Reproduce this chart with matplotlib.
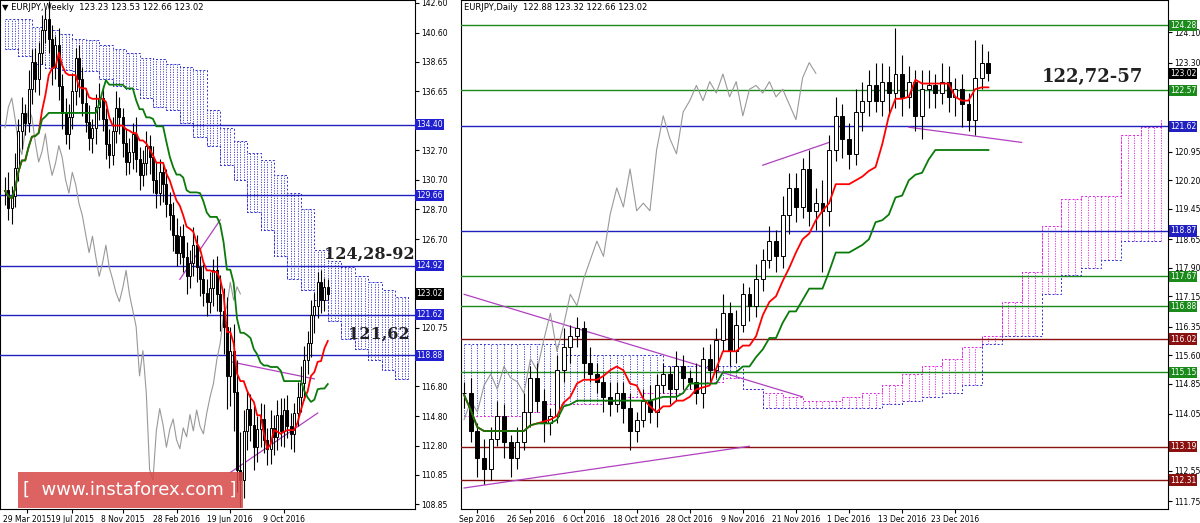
import numpy as np
import pandas as pd
import matplotlib
matplotlib.use("Agg")
import matplotlib.pyplot as plt
from matplotlib.transforms import blended_transform_factory as btf

# ---------------- DATA: weekly ----------------
w_close = [130.0,128.8,129.6,131.5,134.0,135.2,134.5,136.8,138.6,137.5,
           139.2,140.8,141.5,140.2,138.3,139.8,137.0,135.2,133.8,134.9,
           136.7,138.9,137.5,135.9,134.6,133.5,134.2,135.6,136.2,134.8,
           133.1,132.4,134.0,135.5,134.9,133.2,131.9,132.6,133.8,132.1,
           131.0,131.8,133.0,132.2,130.7,129.8,131.2,130.4,129.1,128.3,
           127.0,125.8,126.9,125.5,124.2,125.1,126.3,124.8,124.0,123.1,
           122.5,123.4,124.6,123.0,121.9,120.8,117.5,119.2,116.4,111.2,
           110.5,113.8,115.3,114.2,112.7,113.9,114.6,113.2,112.6,114.0,
           113.4,114.9,113.8,115.2,114.1,113.6,115.0,116.1,117.0,118.6,
           119.7,121.6,122.2,123.8,122.6,123.5,123.02]
w_wick_up = [0.9,1.2,0.7,1.0,0.8,1.1,0.6,1.3,0.9,1.0,
             0.8,1.0,0.7,1.2,0.9,0.6,1.1,0.8,1.0,0.9,
             1.2,0.7,0.9,0.8,1.0,1.1,0.6,0.9,1.0,0.8,
             0.7,1.0,0.9,1.2,0.8,0.6,1.0,0.9,0.7,1.1,
             0.8,0.9,1.0,0.7,0.8,1.2,0.9,0.6,1.0,0.8,
             0.9,1.1,0.7,0.8,1.0,0.9,1.2,0.7,0.8,1.0,
             0.9,1.1,0.8,1.0,1.3,1.5,2.0,1.6,1.8,2.2,
             2.5,1.4,1.2,1.0,1.3,0.9,1.1,1.0,0.8,1.2,
             0.9,1.0,1.1,0.8,1.0,0.9,0.7,1.0,1.2,0.9,
             0.8,1.0,0.9,0.7,0.8,0.6,0.5]
w_wick_dn = [1.0,0.8,1.1,0.7,0.9,1.2,0.8,0.6,1.0,0.9,
             1.1,0.7,0.9,1.0,1.2,0.8,0.9,1.1,0.7,1.0,
             0.8,1.0,1.2,0.9,0.7,0.8,1.0,1.1,0.9,0.8,
             1.0,0.9,0.7,0.8,1.1,1.0,0.9,0.8,1.2,0.9,
             1.0,0.7,0.8,1.1,0.9,1.0,0.8,1.2,0.9,1.0,
             1.1,0.9,0.8,1.0,1.2,0.8,0.9,1.0,1.1,0.9,
             1.0,0.8,1.2,1.1,1.4,1.8,2.2,2.0,2.6,1.5,
             1.8,1.2,1.3,1.1,1.5,1.0,1.2,0.9,1.1,1.0,
             1.2,0.9,1.0,1.1,0.8,1.0,1.2,0.9,1.0,1.1,
             1.0,0.9,1.2,0.8,0.9,0.7,0.4]
w_cloud_idx = list(range(0, 124, 4))
w_cloud_up = [141.5,141.5,141.0,140.8,140.5,140.2,140.1,139.8,139.5,139.2,
              138.9,138.8,138.5,138.3,138.1,135.4,134.2,133.3,132.5,132.0,
              131.0,129.8,128.7,126.0,125.2,124.8,124.2,123.8,123.3,122.8,122.6]
w_cloud_lo = [139.5,139.0,138.5,138.2,138.1,138.0,138.0,137.5,137.0,136.8,
              136.2,135.6,135.4,134.5,133.6,133.0,131.7,130.7,128.5,127.3,
              125.6,124.0,123.3,122.6,121.2,120.0,119.3,118.6,117.9,117.3,117.3]
w_dates_idx = [6.5, 20, 35, 51, 67, 83]
w_dates = ["29 Mar 2015", "19 Jul 2015", "8 Nov 2015", "28 Feb 2016", "19 Jun 2016", "9 Oct 2016"]
w_ticks = [142.60,140.60,138.65,136.65,132.70,130.70,128.70,126.70,120.75,116.80,114.80,112.80,110.85,108.85]
w_levels = [134.40, 129.66, 124.92, 121.62, 118.88]
w_trend = [((66, 118.5), (92, 117.3)), ((67, 111.0), (93, 115.0)), ((52, 124.0), (64, 128.0))]

# ---------------- DATA: daily ----------------
d_close = [114.6,113.6,112.9,112.6,113.4,114.0,113.3,112.9,113.3,114.1,115.0,114.4,113.8,114.0,
           115.2,115.8,116.1,116.3,115.4,115.1,114.9,114.5,114.3,114.6,
           114.2,113.6,113.9,114.4,114.1,114.8,115.1,114.7,115.3,115.0,
           114.9,114.6,115.5,115.2,116.0,116.7,115.7,116.4,117.2,116.9,
           117.6,118.1,118.6,118.2,119.3,120.0,119.5,120.5,119.4,119.6,
           119.4,121.0,121.9,121.3,120.9,122.0,122.3,122.7,122.3,122.8,
           122.5,123.0,122.4,122.8,121.9,122.6,122.7,122.5,122.8,122.4,
           122.6,122.2,121.8,122.9,123.3,123.02]
d_wick_up = [0.3,0.4,0.2,0.5,0.3,0.4,0.3,0.2,0.4,0.5,
             0.3,0.4,0.3,0.2,0.4,0.5,0.3,0.3,0.2,0.4,
             0.3,0.2,0.4,0.3,0.3,0.4,0.2,0.3,0.4,0.3,
             0.3,0.2,0.4,0.3,0.2,0.5,0.3,0.4,0.3,0.5,
             0.3,0.4,0.3,0.2,0.4,0.3,0.4,0.3,0.5,0.4,
             0.4,0.3,0.5,0.4,0.6,0.4,0.5,0.3,0.4,0.6,
             0.5,0.4,0.6,0.5,0.4,1.2,0.5,0.4,0.3,0.5,
             0.4,0.3,0.5,0.4,0.3,0.4,0.3,1.0,0.5,0.3]
d_wick_dn = [0.4,0.3,0.5,0.4,0.3,0.2,0.4,0.5,0.3,0.2,
             0.4,0.3,0.5,0.3,0.2,0.3,0.4,0.3,0.4,0.2,
             0.3,0.4,0.3,0.2,0.4,0.5,0.3,0.2,0.3,0.4,
             0.2,0.4,0.3,0.3,0.2,0.3,0.4,0.3,0.2,0.3,
             0.4,0.3,0.2,0.4,0.3,0.3,0.2,0.4,0.3,0.5,
             0.4,0.3,0.4,0.5,1.6,0.4,0.3,0.5,0.4,0.3,
             0.5,0.4,0.3,0.4,0.6,0.4,0.5,0.3,0.4,0.6,
             0.5,0.4,0.3,0.4,0.5,0.6,0.3,0.4,0.3,0.2]
d_cloud_idx = list(range(0, 106, 3))
d_spanA = [114.0,114.0,114.0,114.1,114.3,114.3,114.3,114.4,114.5,114.6,114.6,114.7,114.9,115.0,
           114.7,114.6,114.5,114.4,114.4,114.5,114.6,114.8,115.1,115.3,115.5,115.8,116.1,117.0,
           117.8,119.0,119.7,119.8,119.8,121.4,121.6,121.8]
d_spanB = [115.9,115.9,115.9,115.9,115.9,115.6,115.6,115.6,115.6,115.6,115.3,115.3,115.3,115.3,
           114.7,114.2,114.2,114.2,114.2,114.2,114.2,114.3,114.4,114.5,114.6,114.8,115.9,116.1,
           116.1,117.2,117.7,117.9,118.1,118.6,118.6,118.6]
d_dates_idx = [2, 10, 18, 26, 34, 42, 50, 58, 66, 74]
d_dates = ["Sep 2016", "26 Sep 2016", "6 Oct 2016", "18 Oct 2016", "28 Oct 2016", "9 Nov 2016",
           "21 Nov 2016", "1 Dec 2016", "13 Dec 2016", "23 Dec 2016"]
d_ticks = [124.10,123.30,120.95,120.20,119.45,118.65,117.90,117.15,116.35,115.60,114.85,114.05,112.55,111.75]
d_levels = [(124.28, "#1a8a1a"), (122.57, "#1a8a1a"), (121.62, "#2020c0"), (118.87, "#2020c0"),
            (117.67, "#1a8a1a"), (116.88, "#1a8a1a"), (116.02, "#8b1010"), (115.15, "#1a8a1a"),
            (113.19, "#8b1010"), (112.31, "#8b1010")]
d_trend = [((0, 117.2), (51, 114.5)), ((0, 112.1), (43, 113.2)), ((45, 120.6), (55, 121.2)),
           ((67, 121.6), (84, 121.2))]


def candles(ax, closes, up, dn, width):
    c = np.array(closes)
    o = np.concatenate([[c[0]], c[:-1]])
    hi = np.maximum(o, c) + np.array(up)
    lo = np.minimum(o, c) - np.array(dn)
    x = np.arange(len(c))
    ax.vlines(x, lo, hi, color="black", lw=0.8, zorder=4)
    bull = c >= o
    ax.bar(x[bull], (c - o)[bull], bottom=o[bull], width=width, color="white", edgecolor="black", lw=0.7, zorder=5)
    ax.bar(x[~bull], (o - c)[~bull], bottom=c[~bull], width=width, color="black", edgecolor="black", lw=0.7, zorder=5)
    hs, ls = pd.Series(hi), pd.Series(lo)
    tenkan = (hs.rolling(9, min_periods=1).max() + ls.rolling(9, min_periods=1).min()) / 2
    kijun = (hs.rolling(26, min_periods=1).max() + ls.rolling(26, min_periods=1).min()) / 2
    ax.plot(x, tenkan, color="red", lw=1.3, zorder=6)
    ax.plot(x, kijun, color="#0a7a0a", lw=1.3, zorder=6)
    ax.plot(x[26:] - 26, c[26:], color="#999999", lw=0.8, zorder=3)


def cloud(ax, idx, a, b, bear_color, bull_color, step):
    idx = np.array(idx); a = np.array(a); b = np.array(b)
    xs = np.arange(idx[0], idx[-1] + 0.01, step)
    k = np.searchsorted(idx, xs, side="right") - 1
    ya, yb = a[k], b[k]
    cols = np.where(yb >= ya, bear_color, bull_color)
    ax.vlines(xs, np.minimum(ya, yb), np.maximum(ya, yb), colors=cols, lw=0.6,
              linestyles=(0, (1.5, 1.5)), zorder=2)
    ax.step(idx, a, where="post", color=bull_color, lw=0.7, ls=(0, (2, 2)), zorder=2)
    ax.step(idx, b, where="post", color=bear_color, lw=0.7, ls=(0, (2, 2)), zorder=2)


def label_box(ax, y, txt, col):
    ax.text(1.003, y, txt, transform=btf(ax.transAxes, ax.transData), fontsize=5.5, color="white",
            va="center", ha="left", bbox=dict(boxstyle="square,pad=0.15", fc=col, ec="none"), zorder=10,
            clip_on=False)


fig = plt.figure(figsize=(12, 5.23), dpi=100)

# ---------- left weekly ----------
ax1 = fig.add_axes([0.0, 0.027, 0.346, 0.973])
ax1.set_xlim(-1.5, 122)
ax1.set_ylim(108.55, 142.80)
cloud(ax1, w_cloud_idx, w_cloud_lo, w_cloud_up, "#3030d0", "#3030d0", 1.0)
for lv in w_levels:
    ax1.axhline(lv, color="#2020c0", lw=1.0, zorder=3)
    label_box(ax1, lv, f"{lv:.2f}", "#2020d0")
for (x0, y0), (x1, y1) in w_trend:
    ax1.plot([x0, x1], [y0, y1], color="#b040c0", lw=0.9, zorder=3)
candles(ax1, w_close, w_wick_up, w_wick_dn, 0.6)
label_box(ax1, 123.02, "123.02", "black")
ax1.text(95, 125.4, "124,28-92", fontsize=11.5, fontweight="bold", family="DejaVu Serif", color="#222222", zorder=9)
ax1.text(102, 120.0, "121,62", fontsize=11.5, fontweight="bold", family="DejaVu Serif", color="#222222", zorder=9)
ax1.text(0.005, 0.995, "\u25bc EURJPY,Weekly  123.23 123.53 122.66 123.02", transform=ax1.transAxes,
         fontsize=6, va="top", ha="left")

# ---------- right daily ----------
ax2 = fig.add_axes([0.384, 0.027, 0.589, 0.973])
ax2.set_xlim(-0.5, 106)
ax2.set_ylim(111.55, 124.95)
cloud(ax2, d_cloud_idx, d_spanA, d_spanB, "#3030d0", "#e020e0", 1.0)
for lv, col in d_levels:
    ax2.axhline(lv, color=col, lw=1.0, zorder=3)
    label_box(ax2, lv, f"{lv:.2f}", col)
for (x0, y0), (x1, y1) in d_trend:
    ax2.plot([x0, x1], [y0, y1], color="#b040c0", lw=0.9, zorder=3)
candles(ax2, d_close, d_wick_up, d_wick_dn, 0.6)
label_box(ax2, 123.02, "123.02", "black")
ax2.text(87, 122.8, "122,72-57", fontsize=13, fontweight="bold", family="DejaVu Serif", color="#222222", zorder=9)
ax2.text(0.005, 0.995, "EURJPY,Daily  122.88 123.32 122.66 123.02", transform=ax2.transAxes,
         fontsize=6, va="top", ha="left")

for ax, ti, di, dl in ((ax1, w_ticks, w_dates_idx, w_dates), (ax2, d_ticks, d_dates_idx, d_dates)):
    ax.yaxis.tick_right()
    ax.set_yticks(ti)
    ax.set_yticklabels([f"{t:.2f}" for t in ti], fontsize=5.5)
    ax.set_xticks(di)
    ax.set_xticklabels(dl, fontsize=5.5, ha="center")
    ax.tick_params(axis="both", length=3, pad=1.5)
    for s in ax.spines.values():
        s.set_linewidth(0.8)

# watermark
fig.patches.append(plt.Rectangle((18 / 1200, 1 - 508 / 523), 225 / 1200, 36 / 523, transform=fig.transFigure,
                                 fc="#d84848", ec="none", alpha=0.85, zorder=20))
fig.text(130 / 1200, 1 - 490 / 523, "[  www.instaforex.com ]", fontsize=13, color="white",
         ha="center", va="center", zorder=21)

fig.savefig("out.png", dpi=100)
